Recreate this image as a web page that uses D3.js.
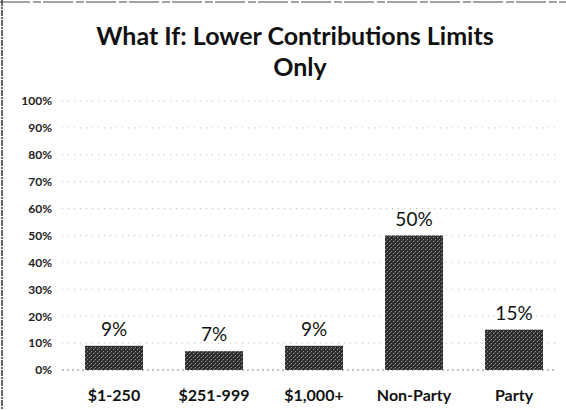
<!DOCTYPE html>
<html>
<head>
<meta charset="utf-8">
<script src="https://cdn.jsdelivr.net/npm/d3@7"></script>
<style>
  html, body { margin: 0; padding: 0; background: #fff; }
  svg { display: block; }
</style>
</head>
<body>
<svg id="chart" width="566" height="410"></svg>
<script>
const titleLines = ["What If: Lower Contributions Limits", "Only"];
const categories = ["$1-250", "$251-999", "$1,000+", "Non-Party", "Party"];
const values = [9, 7, 9, 50, 15];
const tickValues = [0, 10, 20, 30, 40, 50, 60, 70, 80, 90, 100];

const W = 566, H = 410;
const margin = { top: 101, right: 2, bottom: 40, left: 64 };
const svg = d3.select("#chart");
const FONT = "Lato, 'Open Sans', sans-serif";

// dithered bar texture
const defs = svg.append("defs");
const pat = defs.append("pattern").attr("id", "dither")
  .attr("patternUnits", "userSpaceOnUse").attr("width", 4).attr("height", 4);
pat.append("rect").attr("width", 4).attr("height", 4).attr("fill", "#2e2e2e");
pat.append("rect").attr("x", 1).attr("y", 1).attr("width", 1).attr("height", 1).attr("fill", "#9a9a9a");
pat.append("rect").attr("x", 3).attr("y", 3).attr("width", 1).attr("height", 1).attr("fill", "#8a8a8a");
pat.append("rect").attr("x", 2).attr("y", 0).attr("width", 1).attr("height", 1).attr("fill", "#5a5a5a");

// frame (scanned border)
svg.append("line").attr("x1", 2).attr("x2", 2).attr("y1", 0).attr("y2", H)
  .attr("stroke", "#333").attr("stroke-width", 1.5).attr("stroke-dasharray", "6,1,2,1");
svg.append("line").attr("x1", 0).attr("x2", W).attr("y1", 2).attr("y2", 2)
  .attr("stroke", "#444").attr("stroke-width", 1).attr("stroke-dasharray", "30,3,8,2");

const x = d3.scaleBand().domain(categories)
  .range([margin.left, W - margin.right]).paddingInner(0.42).paddingOuter(0.21);
const y = d3.scaleLinear().domain([0, 100]).range([370, margin.top]);

// title
const title = svg.append("text").attr("text-anchor", "middle")
  .attr("font-family", FONT).attr("font-weight", "bold")
  .attr("font-size", 25).attr("fill", "#111");
title.append("tspan").attr("x", 295).attr("y", 45).text(titleLines[0]);
title.append("tspan").attr("x", 300).attr("y", 76).text(titleLines[1]);

// gridlines
svg.append("g").selectAll("line").data(tickValues.filter(d => d > 0)).join("line")
  .attr("x1", margin.left - 2).attr("x2", W - 6)
  .attr("y1", d => y(d)).attr("y2", d => y(d))
  .attr("stroke", "#b5b5b5").attr("stroke-width", 1)
  .attr("stroke-dasharray", "1,5");

// y axis
const yAxis = d3.axisLeft(y).tickValues(tickValues).tickFormat(d => d + "%").tickSize(0).tickPadding(0);
const gy = svg.append("g").attr("transform", `translate(52,0)`).call(yAxis);
gy.select(".domain").remove();
gy.selectAll("text").attr("font-family", FONT)
  .attr("font-weight", "bold").attr("font-size", 12).attr("fill", "#222");

// baseline
svg.append("line").attr("x1", margin.left - 2).attr("x2", W - 10)
  .attr("y1", y(0)).attr("y2", y(0))
  .attr("stroke", "#888").attr("stroke-dasharray", "2,3");

// bars
svg.append("g").selectAll("rect").data(values).join("rect")
  .attr("x", (d, i) => x(categories[i]))
  .attr("width", x.bandwidth())
  .attr("y", d => y(d))
  .attr("height", d => y(0) - y(d))
  .attr("fill", "url(#dither)");

// value labels
svg.append("g").selectAll("text").data(values).join("text")
  .attr("x", (d, i) => x(categories[i]) + x.bandwidth() / 2)
  .attr("y", d => y(d) - 10)
  .attr("text-anchor", "middle")
  .attr("font-family", FONT)
  .attr("font-size", 19).attr("fill", "#111")
  .text(d => d + "%");

// x axis
const xAxis = d3.axisBottom(x).tickSize(0).tickPadding(0);
const gx = svg.append("g").attr("transform", `translate(0,401)`).call(xAxis);
gx.select(".domain").remove();
gx.selectAll("text").attr("dy", 0).attr("font-family", FONT)
  .attr("font-weight", "bold").attr("font-size", 16).attr("fill", "#111");
</script>
</body>
</html>
